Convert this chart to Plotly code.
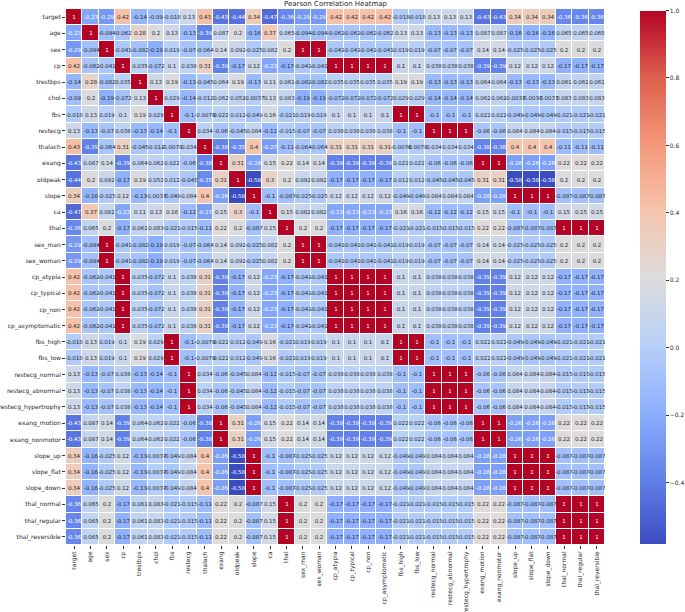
import plotly.graph_objects as go

# Base correlation matrix (14 original features)
base_names = ["target", "age", "sex", "cp", "trestbps", "chol", "fbs", "restecg",
              "thalach", "exang", "oldpeak", "slope", "ca", "thal"]
base_corr = [
    [1, -0.23, -0.29, 0.42, -0.14, -0.09, -0.018, 0.13, 0.43, -0.43, -0.44, 0.34, -0.47, -0.36],
    [-0.23, 1, -0.094, -0.062, 0.28, 0.2, 0.13, -0.13, -0.39, 0.087, 0.2, -0.16, 0.37, 0.065],
    [-0.29, -0.094, 1, -0.041, -0.082, -0.19, 0.019, -0.07, -0.064, 0.14, 0.092, -0.025, 0.082, 0.2],
    [0.42, -0.062, -0.041, 1, 0.035, -0.072, 0.1, 0.038, 0.31, -0.39, -0.17, 0.12, -0.23, -0.17],
    [-0.14, 0.28, -0.082, 0.035, 1, 0.13, 0.19, -0.13, -0.045, 0.064, 0.19, -0.13, 0.11, 0.061],
    [-0.09, 0.2, -0.19, -0.072, 0.13, 1, 0.029, -0.14, -0.012, 0.062, 0.052, -0.0037, 0.13, 0.083],
    [-0.018, 0.13, 0.019, 0.1, 0.19, 0.029, 1, -0.1, -0.0078, 0.022, 0.012, -0.049, 0.16, -0.021],
    [0.13, -0.13, -0.07, 0.038, -0.13, -0.14, -0.1, 1, 0.034, -0.06, -0.045, 0.084, -0.12, -0.015],
    [0.43, -0.39, -0.064, 0.31, -0.045, -0.012, -0.0078, 0.034, 1, -0.38, -0.35, 0.4, -0.27, -0.11],
    [-0.43, 0.087, 0.14, -0.39, 0.064, 0.062, 0.022, -0.06, -0.38, 1, 0.31, -0.26, 0.15, 0.22],
    [-0.44, 0.2, 0.092, -0.17, 0.19, 0.052, 0.012, -0.045, -0.35, 0.31, 1, -0.58, 0.3, 0.2],
    [0.34, -0.16, -0.025, 0.12, -0.13, -0.0037, -0.049, 0.084, 0.4, -0.26, -0.58, 1, -0.1, -0.087],
    [-0.47, 0.37, 0.082, -0.23, 0.11, 0.13, 0.16, -0.12, -0.27, 0.15, 0.3, -0.1, 1, 0.15],
    [-0.36, 0.065, 0.2, -0.17, 0.061, 0.083, -0.021, -0.015, -0.11, 0.22, 0.2, -0.087, 0.15, 1],
]

# All displayed columns and the base feature each one was derived from
labels = ["target", "age", "sex", "cp", "trestbps", "chol", "fbs", "restecg", "thalach",
          "exang", "oldpeak", "slope", "ca", "thal", "sex_man", "sex_woman", "cp_atypia",
          "cp_typical", "cp_non", "cp_asymptomatic", "fbs_high", "fbs_low", "restecg_normal",
          "restecg_abnormal", "restecg_hypertrophy", "exang_motion", "exang_nonmotor",
          "slope_up", "slope_flat", "slope_down", "thal_normal", "thal_regular", "thal_reversible"]
source = ["target", "age", "sex", "cp", "trestbps", "chol", "fbs", "restecg", "thalach",
          "exang", "oldpeak", "slope", "ca", "thal", "sex", "sex", "cp",
          "cp", "cp", "cp", "fbs", "fbs", "restecg",
          "restecg", "restecg", "exang", "exang",
          "slope", "slope", "slope", "thal", "thal", "thal"]

idx = [base_names.index(s) for s in source]
z = [[base_corr[i][j] for j in idx] for i in idx]

zmin = min(min(r) for r in z)
zmax = max(max(r) for r in z)

coolwarm = ["#3b4cc0", "#6282ea", "#8db0fe", "#b8d0f9", "#dddcdc",
            "#f5c4ac", "#f4987a", "#de604d", "#b40426"]
cscale = [[k / (len(coolwarm) - 1), c] for k, c in enumerate(coolwarm)]


def hex2rgb(h):
    h = h.lstrip("#")
    return [int(h[k:k + 2], 16) / 255 for k in (0, 2, 4)]


def color_at(t):
    t = max(0.0, min(1.0, t))
    n = len(coolwarm) - 1
    k = min(int(t * n), n - 1)
    f = t * n - k
    a, b = hex2rgb(coolwarm[k]), hex2rgb(coolwarm[k + 1])
    return [a[m] + (b[m] - a[m]) * f for m in range(3)]


def lum(rgb):
    out = []
    for c in rgb:
        out.append(c / 12.92 if c <= 0.03928 else ((c + 0.055) / 1.055) ** 2.4)
    return 0.2126 * out[0] + 0.7152 * out[1] + 0.0722 * out[2]


def fmt(v):
    return "{:.2g}".format(v)


dark_text, light_text = [], []
for row in z:
    dr, lr = [], []
    for v in row:
        s = fmt(v)
        if lum(color_at((v - zmin) / (zmax - zmin))) <= 0.408:
            dr.append("")
            lr.append(s)
        else:
            dr.append(s)
            lr.append("")
    dark_text.append(dr)
    light_text.append(lr)

L, R, T, B = 66, 80, 9, 67
W, H = 685, 612
pw = W - L - R

fig = go.Figure()
fig.add_trace(go.Heatmap(
    z=z, x=labels, y=labels, zmin=zmin, zmax=zmax, colorscale=cscale,
    xgap=1, ygap=1, text=dark_text, texttemplate="%{text}",
    textfont=dict(family="DejaVu Sans", size=5.5, color="#262626"),
    colorbar=dict(
        x=(640 - L) / pw, xanchor="left", y=0.5, yanchor="middle", len=0.995, lenmode="fraction",
        thickness=26, outlinewidth=0, ticks="outside", ticklen=3, tickcolor="#333",
        xpad=0, ypad=0,
        tickvals=[1.0, 0.8, 0.6, 0.4, 0.2, 0.0, -0.2, -0.4],
        ticktext=["1.0", "0.8", "0.6", "0.4", "0.2", "0.0", "\u22120.2", "\u22120.4"],
        tickfont=dict(family="DejaVu Sans", size=6, color="#262626"),
    ),
))
fig.add_trace(go.Heatmap(
    z=z, x=labels, y=labels, zmin=zmin, zmax=zmax,
    colorscale=[[0, "rgba(0,0,0,0)"], [1, "rgba(0,0,0,0)"]], showscale=False,
    xgap=1, ygap=1, text=light_text, texttemplate="%{text}", hoverinfo="skip",
    textfont=dict(family="DejaVu Sans", size=5.5, color="white"),
))

fig.update_layout(
    width=W, height=H,
    margin=dict(l=L, r=R, t=T, b=B, autoexpand=False),
    paper_bgcolor="white", plot_bgcolor="white",
    title=dict(text="Pearson Correlation Heatmap", x=(L + pw / 2) / W, xanchor="center",
               y=0.999, yanchor="top",
               font=dict(family="DejaVu Sans", size=7, color="#262626")),
    font=dict(family="DejaVu Sans", size=6, color="#262626"),
)
fig.update_xaxes(tickangle=-90, ticks="outside", ticklen=3, tickcolor="#333", automargin=False,
                 showgrid=False, zeroline=False, tickfont=dict(size=6))
fig.update_yaxes(autorange="reversed", ticks="outside", ticklen=3, tickcolor="#333", automargin=False,
                 showgrid=False, zeroline=False, tickfont=dict(size=6))

fig.write_html("out.html", config={"displayModeBar": False},
               post_script="document.body.style.margin='0';document.body.style.padding='0';")
